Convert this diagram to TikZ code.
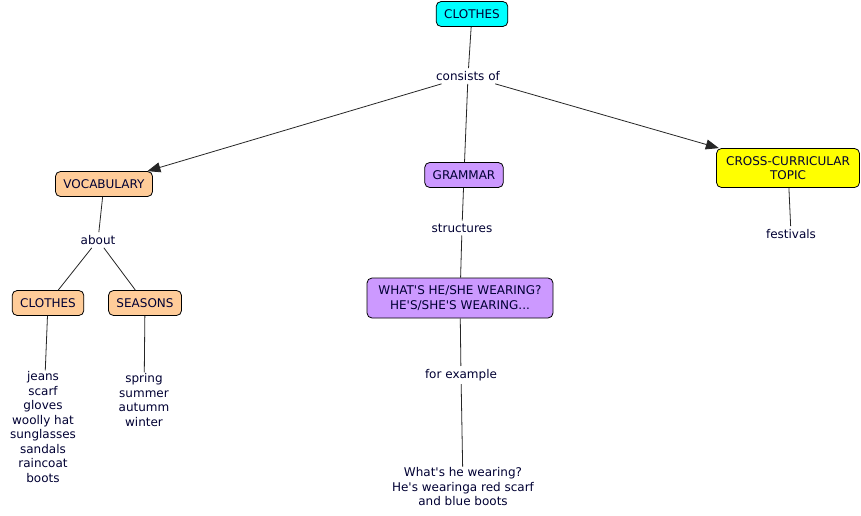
\documentclass[tikz,border=0pt]{standalone}
\usepackage{fontspec}
\setmainfont{DejaVu Sans}
\usetikzlibrary{arrows.meta}
\definecolor{cyanbox}{HTML}{00FFFF}
\definecolor{peach}{HTML}{FFCC99}
\definecolor{lav}{HTML}{CC99FF}
\definecolor{yel}{HTML}{FFFF00}
\definecolor{txt}{HTML}{000033}
\newcommand{\apos}{\textquotesingle}
\begin{document}
\begin{tikzpicture}[x=1pt,y=-1pt,
  every node/.style={font=\fontsize{12}{14.5}\selectfont, text=txt, align=center},
  concept/.style={draw=black, line width=0.8pt, rounded corners=5pt, inner xsep=8pt, inner ysep=3pt, minimum height=25pt},
  lbl/.style={inner sep=3pt},
  conn/.style={draw=black!85, line width=0.8pt},
  arr/.style={conn, -{Triangle[length=13pt,width=10pt]}}]
\useasboundingbox[fill=white] (0,0) rectangle (861,516);
\node[concept, fill=cyanbox] (clothes) at (472,14) {CLOTHES};
\node[lbl] (consists) at (468,76) {consists of};
\node[concept, fill=peach] (vocab) at (104,184) {VOCABULARY};
\node[concept, fill=lav] (grammar) at (464,175) {GRAMMAR};
\node[concept, fill=yel, minimum height=39pt, minimum width=143pt] (cross) at (788,168) {CROSS-CURRICULAR\\TOPIC};
\node[lbl] (about) at (98,240) {about};
\node[concept, fill=peach] (clothes2) at (48,303) {CLOTHES};
\node[concept, fill=peach] (seasons) at (145,303) {SEASONS};
\node[lbl] (structures) at (462,228) {structures};
\node[lbl] (festivals) at (791,234) {festivals};
\node[concept, fill=lav, minimum height=40pt, minimum width=186pt] (what) at (460,298) {WHAT\apos S HE/SHE WEARING?\\HE\apos S/SHE\apos S WEARING...};
\node[lbl] (forex) at (461,375) {for example};
\node[lbl, inner sep=1pt] (list1) at (43,427) {jeans\\scarf\\gloves\\woolly hat\\sunglasses\\sandals\\raincoat\\boots};
\node[lbl, inner sep=1pt] (list2) at (144,400) {spring\\summer\\autumm\\winter};
\node[lbl, inner sep=1pt] (example) at (463,487) {What\apos s he wearing?\\He\apos s wearinga red scarf\\and blue boots};
\draw[conn] (clothes) -- (consists);
\draw[arr] (consists) -- (vocab);
\draw[conn] (consists) -- (grammar);
\draw[arr] (consists) -- (cross);
\draw[conn] (vocab) -- (about);
\draw[conn] (about) -- (clothes2);
\draw[conn] (about) -- (seasons);
\draw[conn] (clothes2) -- (list1);
\draw[conn] (seasons) -- (list2);
\draw[conn] (grammar) -- (structures);
\draw[conn] (structures) -- (what);
\draw[conn] (what) -- (forex);
\draw[conn] (forex) -- (example);
\draw[conn] (cross) -- (festivals);
\end{tikzpicture}
\end{document}
